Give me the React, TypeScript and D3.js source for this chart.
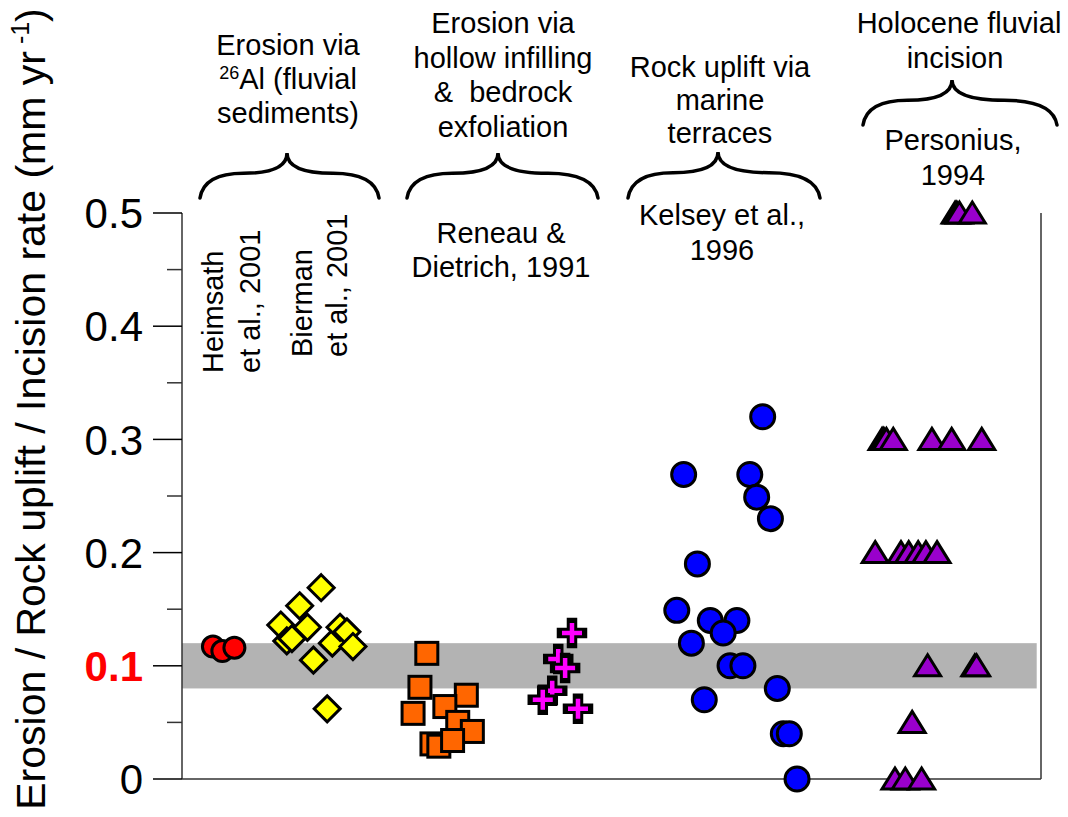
import React from "react";
import * as d3 from "d3";

// ---------- data ----------
const yTicks = [0, 0.1, 0.2, 0.3, 0.4, 0.5];
const yTickLabels = ["0", "0.1", "0.2", "0.3", "0.4", "0.5"];
const yMinorTicks = [0.05, 0.15, 0.25, 0.35, 0.45];
const referenceBand = [0.08, 0.12];

// x = position within the plot (0-100), y = rate (mm/yr)
const heimsathX = [3.6, 4.7, 6.1];
const heimsathY = [0.117, 0.113, 0.116];

const biermanX = [16.2, 13.7, 11.5, 14.6, 12.2, 12.8, 15.3, 17.5, 18.4, 19.2, 19.9, 16.9];
const biermanY = [0.169, 0.153, 0.136, 0.134, 0.122, 0.124, 0.105, 0.12, 0.134, 0.13, 0.117, 0.062];

const reneauX = [28.5, 27.7, 33.1, 26.9, 30.6, 32.1, 33.8, 29.1, 29.9, 31.5];
const reneauY = [0.111, 0.081, 0.074, 0.058, 0.064, 0.05, 0.042, 0.031, 0.029, 0.034];

const exfolX = [45.4, 43.8, 44.6, 43.1, 42.0, 46.1];
const exfolY = [0.129, 0.106, 0.098, 0.078, 0.07, 0.062];

const kelseyX = [67.6, 58.4, 66.1, 66.9, 68.5, 60.0, 57.6, 61.5, 64.6, 63.0, 59.3, 63.8, 65.3, 69.3, 60.8, 70.0, 70.7, 71.6];
const kelseyY = [0.32, 0.269, 0.269, 0.249, 0.23, 0.19, 0.149, 0.14, 0.14, 0.129, 0.12, 0.1, 0.1, 0.08, 0.07, 0.04, 0.04, 0];

const personiusX = [90.0, 90.2, 90.5, 92.0, 81.5, 81.7, 82.0, 82.8, 87.3, 89.6, 93.1, 80.7, 83.7, 84.6, 85.7, 86.6, 87.9, 86.8, 92.3, 92.5, 85.0, 83.0, 84.2, 86.1];
const personiusY = [0.5, 0.5, 0.5, 0.5, 0.3, 0.3, 0.3, 0.3, 0.3, 0.3, 0.3, 0.2, 0.2, 0.2, 0.2, 0.2, 0.2, 0.1, 0.1, 0.1, 0.05, 0, 0, 0];

// ---------- layout ----------
const W = 1068;
const H = 817;
const FONT = "'Liberation Sans', Arial, Helvetica, sans-serif";

const x = d3.scaleLinear().domain([0, 100]).range([182, 1041]);
const y = d3.scaleLinear().domain([0, 0.5]).range([779, 213]);

function bracePath(xL: number, xM: number, xR: number, yT: number, yB: number) {
  const yC = yT + (yB - yT) * 0.45;
  const p = d3.path();
  p.moveTo(xL, yB);
  p.quadraticCurveTo(xL + 4, yC, (xL + xM) / 2, yC);
  p.quadraticCurveTo(xM, yC, xM, yT);
  p.quadraticCurveTo(xM, yC, (xM + xR) / 2, yC);
  p.quadraticCurveTo(xR - 4, yC, xR, yB);
  return p.toString();
}

const zip = (xs: number[], ys: number[]) => xs.map((v, i) => ({ x: v, y: ys[i] }));

export default function App() {
  const stroke = "#000";
  const sw = 3;
  const tri = "M0,-11L13,10L-13,10Z";
  const diamond = "M0,-13L13,0L0,13L-13,0Z";

  const textStyle = { fontFamily: FONT, fontSize: 29, fill: "#000" } as const;

  return (
    <svg width={W} height={H} style={{ position: "absolute", left: 0, top: 0, background: "#fff" }}>
      <rect x={0} y={0} width={W} height={H} fill="#fff" />

      {/* reference band */}
      <rect
        x={x(0)}
        y={y(referenceBand[1])}
        width={x(99.5) - x(0)}
        height={y(referenceBand[0]) - y(referenceBand[1])}
        fill="#b3b3b3"
      />

      {/* axes */}
      <line x1={x(0)} x2={x(0)} y1={y(0.5)} y2={y(0)} stroke="#333" strokeWidth={1.5} />
      <line x1={x(0)} x2={x(100)} y1={y(0)} y2={y(0)} stroke="#333" strokeWidth={1.5} />
      <line x1={x(100)} x2={x(100)} y1={y(0.5)} y2={y(0)} stroke="#333" strokeWidth={1.5} />
      {yTicks.map((t) => (
        <line key={"M" + t} x1={x(0) - 29} x2={x(0)} y1={y(t)} y2={y(t)} stroke="#000" strokeWidth={1.5} />
      ))}
      {yMinorTicks.map((t) => (
        <line key={"m" + t} x1={x(0) - 15} x2={x(0)} y1={y(t)} y2={y(t)} stroke="#333" strokeWidth={1.5} />
      ))}
      {yTicks.map((t, i) => (
        <text
          key={"l" + t}
          x={x(0) - 39}
          y={y(t)}
          dy="0.36em"
          textAnchor="end"
          fontFamily={FONT}
          fontSize={42}
          fontWeight={t === 0.1 ? "bold" : "normal"}
          fill={t === 0.1 ? "#ff0000" : "#000"}
        >
          {yTickLabels[i]}
        </text>
      ))}

      {/* y-axis title */}
      <text
        transform="translate(45,409) rotate(-90)"
        textAnchor="middle"
        fontFamily={FONT}
        fontSize={41}
        fill="#000"
      >
        Erosion / Rock uplift / Incision rate (mm yr
        <tspan fontSize={25} dy={-16}> -1</tspan>
        <tspan dy={16}>)</tspan>
      </text>

      {/* group headers */}
      <g {...textStyle} textAnchor="middle">
        <text x={288} y={55}>Erosion via</text>
        <text x={288} y={89}>
          <tspan fontSize={18} dy={-10}>26</tspan>
          <tspan dy={10}>Al (fluvial</tspan>
        </text>
        <text x={288} y={123}>sediments)</text>

        <text x={503} y={33}>Erosion via</text>
        <text x={503} y={68}>hollow infilling</text>
        <text x={503} y={102} style={{ whiteSpace: "pre" }}>{"&  bedrock"}</text>
        <text x={503} y={137}>exfoliation</text>

        <text x={720} y={77}>Rock uplift via</text>
        <text x={720} y={110}>marine</text>
        <text x={720} y={143}>terraces</text>

        <text x={959} y={33}>Holocene fluvial</text>
        <text x={955} y={68}>incision</text>

        <text x={953} y={150}>Personius,</text>
        <text x={953} y={185}>1994</text>

        <text x={501} y={243}>Reneau &amp;</text>
        <text x={501} y={277}>Dietrich, 1991</text>

        <text x={722} y={225}>Kelsey et al.,</text>
        <text x={722} y={260}>1996</text>
      </g>

      <g {...textStyle} textAnchor="start">
        <text transform="translate(223,373) rotate(-90)">Heimsath</text>
        <text transform="translate(260,373) rotate(-90)">et al., 2001</text>
        <text transform="translate(312,357) rotate(-90)">Bierman</text>
        <text transform="translate(347,357) rotate(-90)">et al., 2001</text>
      </g>

      {/* braces */}
      <g fill="none" stroke="#000" strokeWidth={3.5} strokeLinecap="round">
        <path d={bracePath(200, 287, 379, 153, 198)} />
        <path d={bracePath(407, 498, 598, 153, 198)} />
        <path d={bracePath(628, 718, 820, 152, 198)} />
        <path d={bracePath(863, 952, 1057, 80, 125)} />
      </g>

      {/* Heimsath – red circles */}
      {zip(heimsathX, heimsathY).map((d, i) => (
        <circle key={"h" + i} cx={x(d.x)} cy={y(d.y)} r={10.5} fill="#ff0000" stroke={stroke} strokeWidth={sw} />
      ))}

      {/* Bierman – yellow diamonds */}
      {zip(biermanX, biermanY).map((d, i) => (
        <path
          key={"b" + i}
          d={diamond}
          transform={`translate(${x(d.x)},${y(d.y)})`}
          fill="#ffff00"
          stroke={stroke}
          strokeWidth={sw}
        />
      ))}

      {/* Reneau – orange squares */}
      {zip(reneauX, reneauY).map((d, i) => (
        <rect
          key={"r" + i}
          x={x(d.x) - 11}
          y={y(d.y) - 11}
          width={22}
          height={22}
          fill="#ff6600"
          stroke={stroke}
          strokeWidth={sw}
        />
      ))}

      {/* exfoliation – magenta crosses */}
      {zip(exfolX, exfolY).map((d, i) => (
        <g key={"c" + i} transform={`translate(${x(d.x)},${y(d.y)})`}>
          <path d="M-10,0H10M0,-10V10" stroke="#000" strokeWidth={10.5} strokeLinecap="square" />
          <path d="M-10,0H10M0,-10V10" stroke="#ff00ff" strokeWidth={4.5} strokeLinecap="butt" />
        </g>
      ))}

      {/* Kelsey – blue circles */}
      {zip(kelseyX, kelseyY).map((d, i) => (
        <circle key={"k" + i} cx={x(d.x)} cy={y(d.y)} r={12} fill="#0000ff" stroke={stroke} strokeWidth={sw} />
      ))}

      {/* Personius – purple triangles */}
      {zip(personiusX, personiusY).map((d, i) => (
        <path
          key={"p" + i}
          d={tri}
          transform={`translate(${x(d.x)},${y(d.y)})`}
          fill="#9900cc"
          stroke={stroke}
          strokeWidth={sw}
        />
      ))}
    </svg>
  );
}
